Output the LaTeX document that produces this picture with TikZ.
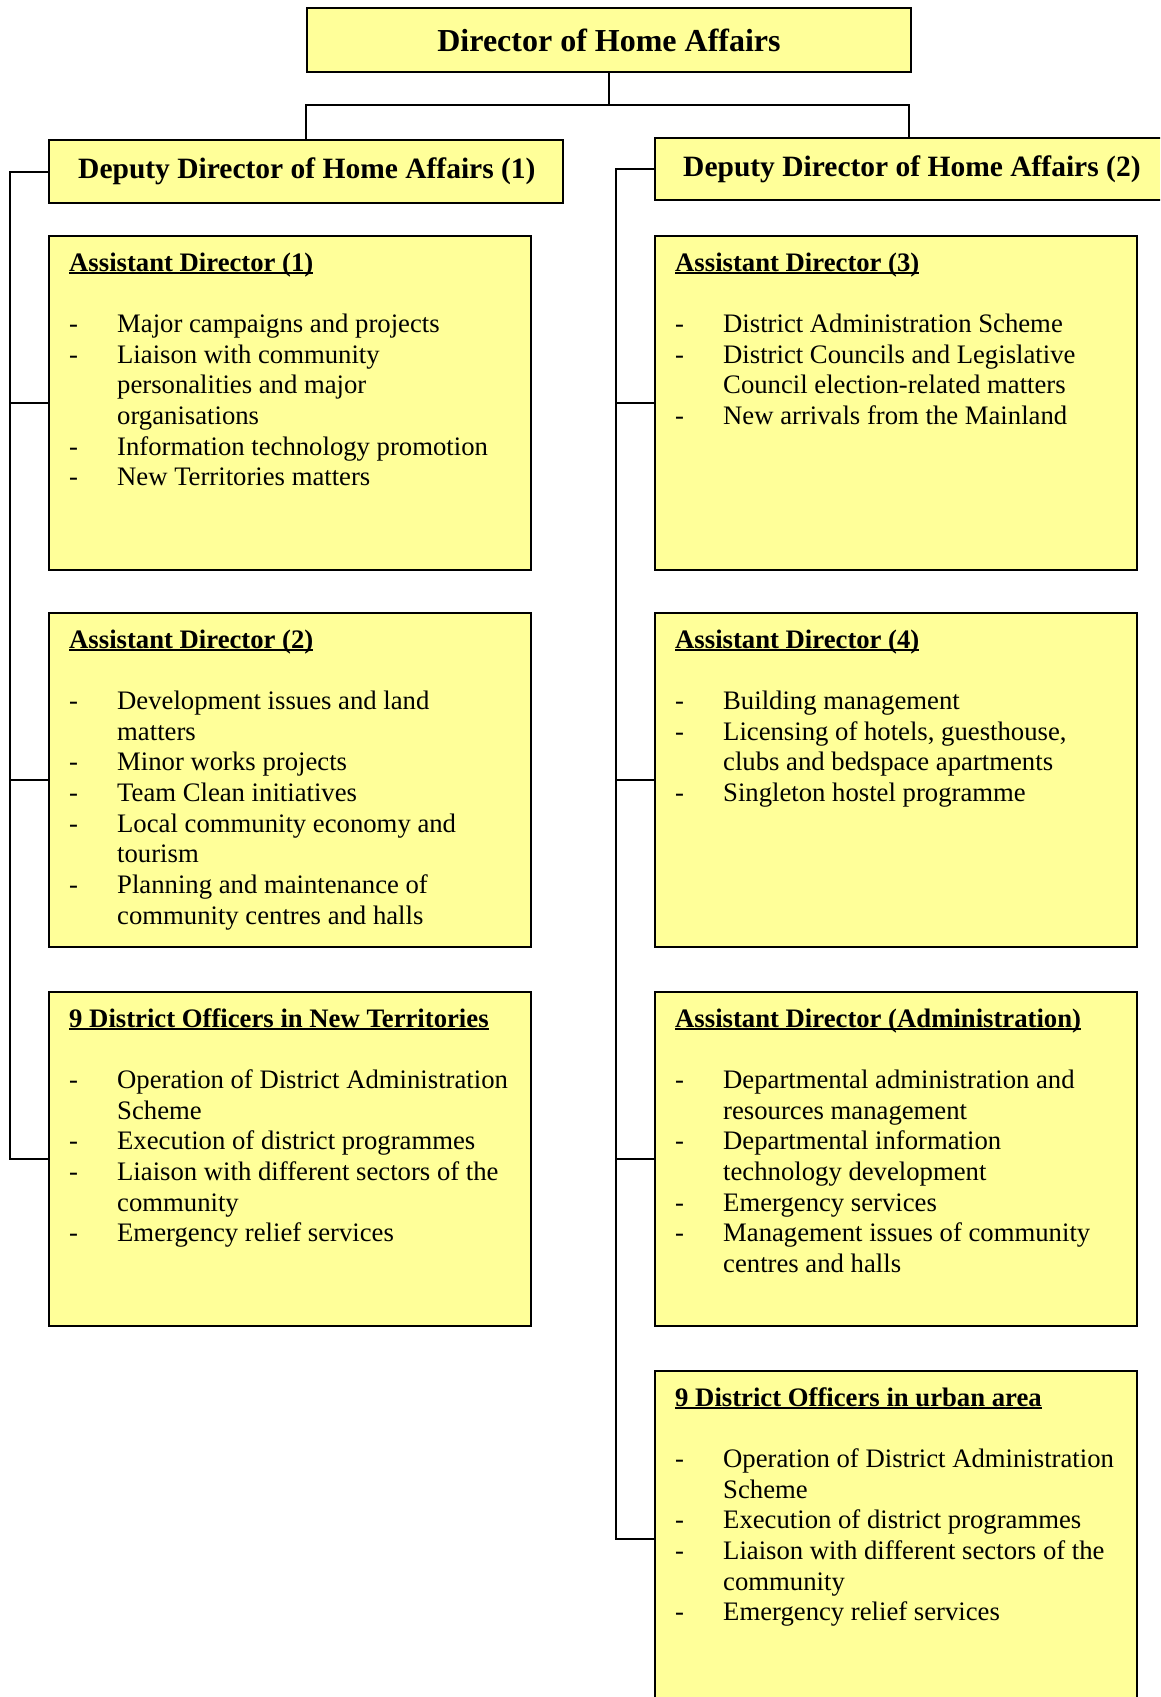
\documentclass[tikz,border=0pt]{standalone}
\usepackage{fontspec}
\setmainfont{Liberation Serif}
\definecolor{boxfill}{RGB}{255,255,153}
\newcommand\headul[1]{\setbox0\hbox{\bfseries #1}\rlap{\rule[-3pt]{\wd0}{1.8pt}}\box0}
\newcommand\bitem[1]{\par\noindent\hangindent=48pt\hangafter=1\makebox[48pt][l]{-}#1}
\newcommand\adtext[2]{\parbox[t]{900pt}{\fontsize{26.7pt}{30.7pt}\selectfont\parindent=0pt\parskip=0pt\noindent\headul{#1}\par\vspace{30.7pt}#2\par}}
\tikzset{
  orgbox/.style={draw=black, line width=2pt, fill=boxfill, inner sep=0pt, anchor=north west},
  adbox/.style={orgbox, minimum height=334pt},
  leftbox/.style={adbox, minimum width=482pt},
  rightbox/.style={adbox, minimum width=482pt},
  adtxt/.style={anchor=base west, inner sep=0pt},
  ddtxt/.style={anchor=west, inner sep=0pt, font=\fontsize{29.5pt}{34pt}\selectfont\bfseries},
  conn/.style={line width=2pt, draw=black},
}
\begin{document}
\begin{tikzpicture}[x=1pt, y=-1pt]
\useasboundingbox (0,0) rectangle (1160,1697);
\clip (0,0) rectangle (1160,1697);

% Director
\node[orgbox, minimum width=604pt, minimum height=64pt, font=\fontsize{32pt}{36pt}\selectfont\bfseries] (dir) at (306,7) {Director of Home Affairs};

% Deputy directors
\node[orgbox, minimum width=514pt, minimum height=63pt] (dd1) at (48,139) {};
\node[ddtxt] (dd1t) at ([xshift=30pt]dd1.west) {Deputy Director of Home Affairs (1)};
\node[orgbox, minimum width=508pt, minimum height=62pt] (dd2) at (654,137) {};
\node[ddtxt] (dd2t) at ([xshift=29pt]dd2.west) {Deputy Director of Home Affairs (2)};

% Left column
\node[leftbox] (ad1) at (48,235) {};
\node[adtxt] (ad1t) at ([xshift=21pt,yshift=-36pt]ad1.north west) {\adtext{Assistant Director (1)}{%
\bitem{Major campaigns and projects}%
\bitem{Liaison with community\\personalities and major\\organisations}%
\bitem{Information technology promotion}%
\bitem{New Territories matters}}};

\node[leftbox] (ad2) at (48,612) {};
\node[adtxt] (ad2t) at ([xshift=21pt,yshift=-36pt]ad2.north west) {\adtext{Assistant Director (2)}{%
\bitem{Development issues and land\\matters}%
\bitem{Minor works projects}%
\bitem{Team Clean initiatives}%
\bitem{Local community economy and\\tourism}%
\bitem{Planning and maintenance of\\community centres and halls}}};

\node[leftbox] (do1) at (48,991) {};
\node[adtxt] (do1t) at ([xshift=21pt,yshift=-36pt]do1.north west) {\adtext{9 District Officers in New Territories}{%
\bitem{Operation of District Administration\\Scheme}%
\bitem{Execution of district programmes}%
\bitem{Liaison with different sectors of the\\community}%
\bitem{Emergency relief services}}};

% Right column
\node[rightbox] (ad3) at (654,235) {};
\node[adtxt] (ad3t) at ([xshift=21pt,yshift=-36pt]ad3.north west) {\adtext{Assistant Director (3)}{%
\bitem{District Administration Scheme}%
\bitem{District Councils and Legislative\\Council election-related matters}%
\bitem{New arrivals from the Mainland}}};

\node[rightbox] (ad4) at (654,612) {};
\node[adtxt] (ad4t) at ([xshift=21pt,yshift=-36pt]ad4.north west) {\adtext{Assistant Director (4)}{%
\bitem{Building management}%
\bitem{Licensing of hotels, guesthouse,\\clubs and bedspace apartments}%
\bitem{Singleton hostel programme}}};

\node[rightbox] (ada) at (654,991) {};
\node[adtxt] (adat) at ([xshift=21pt,yshift=-36pt]ada.north west) {\adtext{Assistant Director (Administration)}{%
\bitem{Departmental administration and\\resources management}%
\bitem{Departmental information\\technology development}%
\bitem{Emergency services}%
\bitem{Management issues of community\\centres and halls}}};

\node[rightbox, minimum height=336pt] (dou) at (654,1370) {};
\node[adtxt] (dout) at ([xshift=21pt,yshift=-36pt]dou.north west) {\adtext{9 District Officers in urban area}{%
\bitem{Operation of District Administration\\Scheme}%
\bitem{Execution of district programmes}%
\bitem{Liaison with different sectors of the\\community}%
\bitem{Emergency relief services}}};

% Connectors
\coordinate (bus) at (608,105);
\coordinate (lsp) at (10,0);
\coordinate (rsp) at (616,0);
\draw[conn] (dir.south) -- (dir.south |- bus);
\draw[conn] (dd1.north) |- (bus) -| (dd2.north);

\draw[conn] (dd1.west) -| (lsp |- do1.west) -- (do1.west);
\draw[conn] (lsp |- ad1.west) -- (ad1.west);
\draw[conn] (lsp |- ad2.west) -- (ad2.west);

\draw[conn] (dd2.west) -| (rsp |- dou.west) -- (dou.west);
\draw[conn] (rsp |- ad3.west) -- (ad3.west);
\draw[conn] (rsp |- ad4.west) -- (ad4.west);
\draw[conn] (rsp |- ada.west) -- (ada.west);
\end{tikzpicture}
\end{document}
